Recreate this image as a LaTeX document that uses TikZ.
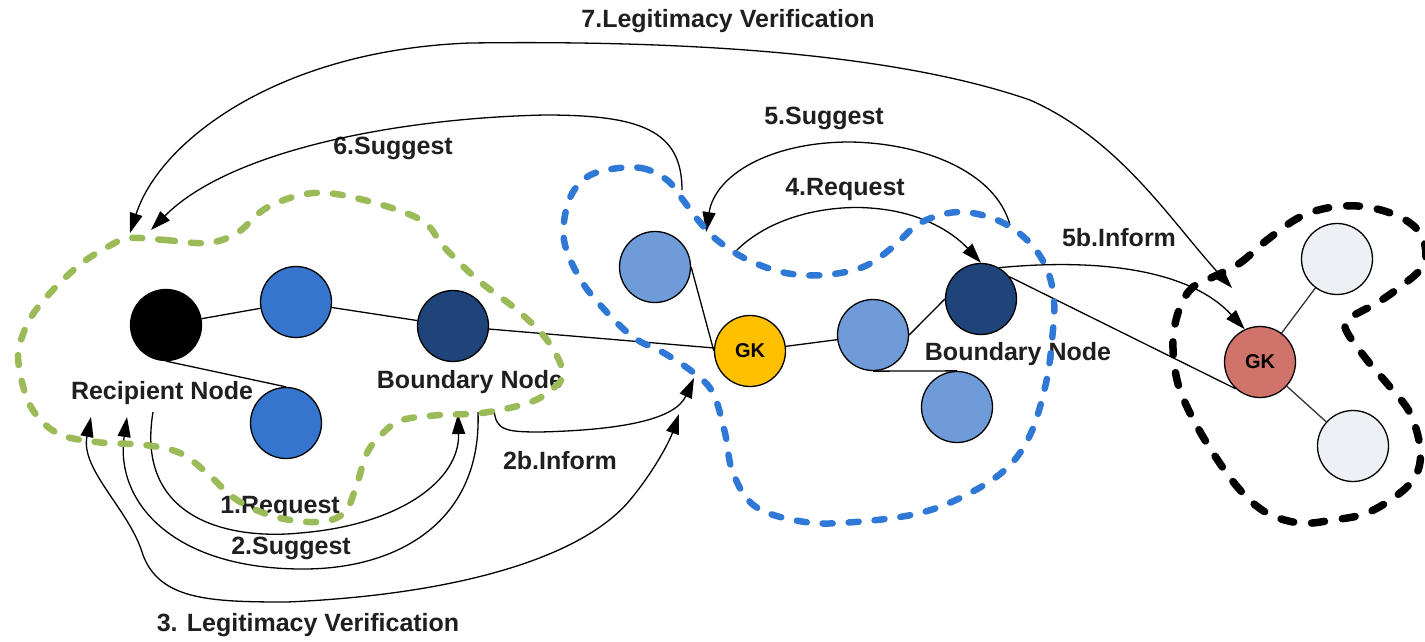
\documentclass[tikz,border=0pt]{standalone}
\usepackage{fontspec}
\setmainfont{Liberation Sans}
\usetikzlibrary{arrows.meta}
\definecolor{midblue}{HTML}{3575CD}
\definecolor{deepblue}{HTML}{1F4479}
\definecolor{paleblue}{HTML}{6F9CD8}
\definecolor{gkyellow}{HTML}{FFC000}
\definecolor{gkred}{HTML}{D0736B}
\definecolor{ghost}{HTML}{EDF0F5}
\definecolor{zonegreen}{HTML}{9BBB59}
\definecolor{zoneblue}{HTML}{2F78D6}
\begin{document}
\begin{tikzpicture}[x=1pt,y=-1pt,
  peer/.style={circle,draw=black,line width=1.3pt,minimum size=71pt,inner sep=0pt},
  gktext/.style={font=\fontsize{20}{24}\selectfont\bfseries},
  lbl/.style={font=\fontsize{25}{30}\selectfont\bfseries,text=black!88,inner sep=0pt},
  link/.style={line width=1.3pt},
  flow/.style={line width=1.3pt,-{Triangle[length=20pt,width=13pt]}},
  twoway/.style={line width=1.3pt,{Triangle[length=20pt,width=13pt]}-{Triangle[length=20pt,width=13pt]}},
  zone/.style={line width=6.5pt,dash pattern=on 10pt off 16pt,line cap=round}]
\useasboundingbox (0,0) rectangle (1425,641);

% left domain
\node[peer,fill=black]    (rc)  at (166,325) {};
\node[peer,fill=midblue]  (b1)  at (296,302) {};
\node[peer,fill=deepblue] (bd)  at (453,326) {};
\node[peer,fill=midblue]  (b2)  at (286,423) {};
% middle domain
\node[peer,fill=paleblue] (lb1) at (655,267) {};
\node[peer,fill=gkyellow,gktext] (gk) at (750,351) {GK};
\node[peer,fill=paleblue] (lb2) at (873,335) {};
\node[peer,fill=deepblue] (db)  at (981,299) {};
\node[peer,fill=paleblue] (lb3) at (957,407) {};
% right domain
\node[peer,fill=gkred,gktext] (rgk) at (1260,362) {GK};
\node[peer,fill=ghost]    (g1)  at (1337,259) {};
\node[peer,fill=ghost]    (g2)  at (1353,446) {};

% labels
\node[lbl] (tRec)  at (162,393) {Recipient Node};
\node[lbl] (tBd)   at (470,382) {Boundary Node};
\node[lbl] (tDb)   at (1018,354) {Boundary Node};
\node[lbl] (t1)    at (280,507) {1.Request};
\node[lbl] (t2)    at (291,548) {2.Suggest};
\node[lbl] (t2b)   at (560,461) {2b.Inform};
\node[lbl] (t3)    at (308,625) {3. Legitimacy Verification};
\node[lbl] (t4)    at (845,189) {4.Request};
\node[lbl] (t5)    at (824,118) {5.Suggest};
\node[lbl] (t5b)   at (1119,238) {5b.Inform};
\node[lbl] (t6)    at (393,148) {6.Suggest};
\node[lbl] (t7)    at (728,21) {7.Legitimacy Verification};

% links between peers
\draw[link] (rc) -- (b1);
\draw[link] (b1) -- (bd);
\draw[link] (rc.south) -- (b2.north);
\draw[link] (bd) -- (gk);
\draw[link] (lb1.east) -- (gk.west);
\draw[link] (gk) -- (lb2);
\draw[link] (lb2.east) -- (db.west);
\draw[link] (lb2.south) -- (lb3.north);
\draw[link] (db.38) -- (rgk.228);
\draw[link,black!80] (rgk) -- (g1);
\draw[link,black!80] (rgk) -- (g2);

% message end points
\coordinate (r3) at (91,417);
\coordinate (r2) at (127,417);
\coordinate (r1) at (153,412);
\coordinate (q1) at (458,414);
\coordinate (q2) at (478,412);
\coordinate (q2b) at (494,410);
\coordinate (k3) at (679,414);
\coordinate (k2b) at (694,378);
\coordinate (m4) at (734,253);
\coordinate (m5) at (1010,225);
\coordinate (m5e) at (706,232);
\coordinate (m6) at (682,190);
\coordinate (r6) at (151,230);
\coordinate (r7) at (130,233);
\coordinate (k7) at (1232,288);

% messages
\draw[flow] (r1) .. controls (135,520) and (230,540) .. (300,533)
                 .. controls (400,525) and (460,480) .. (q1);
\draw[flow] (q2) .. controls (482,520) and (400,570) .. (300,569)
                 .. controls (170,568) and (115,500) .. (r2);
\draw[twoway] (r3) .. controls (80,470) and (130,510) .. (143,555)
                   .. controls (160,600) and (210,602) .. (287,602)
                   .. controls (450,595) and (580,560) .. (630,500)
                   .. controls (655,470) and (670,440) .. (k3);
\draw[flow] (q2b) .. controls (496,430) and (505,432) .. (540,432)
                  .. controls (620,430) and (675,420) .. (k2b);
\draw[flow] (m4) .. controls (770,215) and (830,205) .. (870,208)
                 .. controls (930,212) and (960,240) .. (db.north);
\draw[flow] (m5) .. controls (995,170) and (920,143) .. (850,142)
                 .. controls (770,142) and (715,175) .. (m5e);
\draw[flow] (db.60) .. controls (1100,258) and (1190,270) .. (rgk.115);
\draw[flow] (m6) .. controls (682,130) and (640,115) .. (545,115)
                 .. controls (400,118) and (230,150) .. (r6);
\draw[twoway] (r7) .. controls (160,140) and (280,50) .. (470,43)
                   .. controls (700,40) and (900,55) .. (1030,100)
                   .. controls (1120,140) and (1170,220) .. (k7);

% domain outlines
\draw[zone,zonegreen] plot[smooth cycle,tension=0.6] coordinates {
  (130,238) (165,240) (207,243) (237,233) (268,207) (314,193) (364,200)
  (421,220) (444,247) (478,280) (517,310) (547,340) (563,373) (551,390)
  (528,403) (482,413) (440,415) (402,420) (383,433) (367,453) (356,487)
  (344,513) (318,522) (276,517) (237,500) (207,473) (180,453) (145,445)
  (96,442) (57,433) (31,407) (19,367) (21,340) (38,307) (77,267) (111,245)};
\draw[zone,zoneblue] plot[smooth cycle,tension=0.6] coordinates {
  (606,170) (641,168) (667,180) (683,200) (698,220) (717,240) (748,260)
  (786,273) (824,275) (863,267) (893,247) (920,223) (958,212) (997,220)
  (1027,240) (1046,267) (1054,300) (1052,340) (1046,383) (1031,433)
  (1008,467) (970,493) (920,513) (855,522) (805,522) (756,507) (733,473)
  (725,433) (713,393) (694,373) (664,353) (633,337) (602,307) (579,277)
  (564,240) (568,203) (583,180)};
\draw[zone,black,line width=7.5pt,dash pattern=on 13pt off 18pt] plot[smooth cycle,tension=0.6] coordinates {
  (1213,277) (1240,263) (1267,240) (1300,217) (1333,207) (1367,207)
  (1400,217) (1420,233) (1426,255) (1420,270) (1400,287) (1377,303)
  (1350,318) (1346,330) (1367,360) (1390,387) (1410,413) (1420,447)
  (1417,473) (1400,493) (1367,513) (1333,520) (1300,523) (1267,513)
  (1240,490) (1213,453) (1190,413) (1177,380) (1173,340) (1180,307)
  (1193,287)};
\end{tikzpicture}
\end{document}
